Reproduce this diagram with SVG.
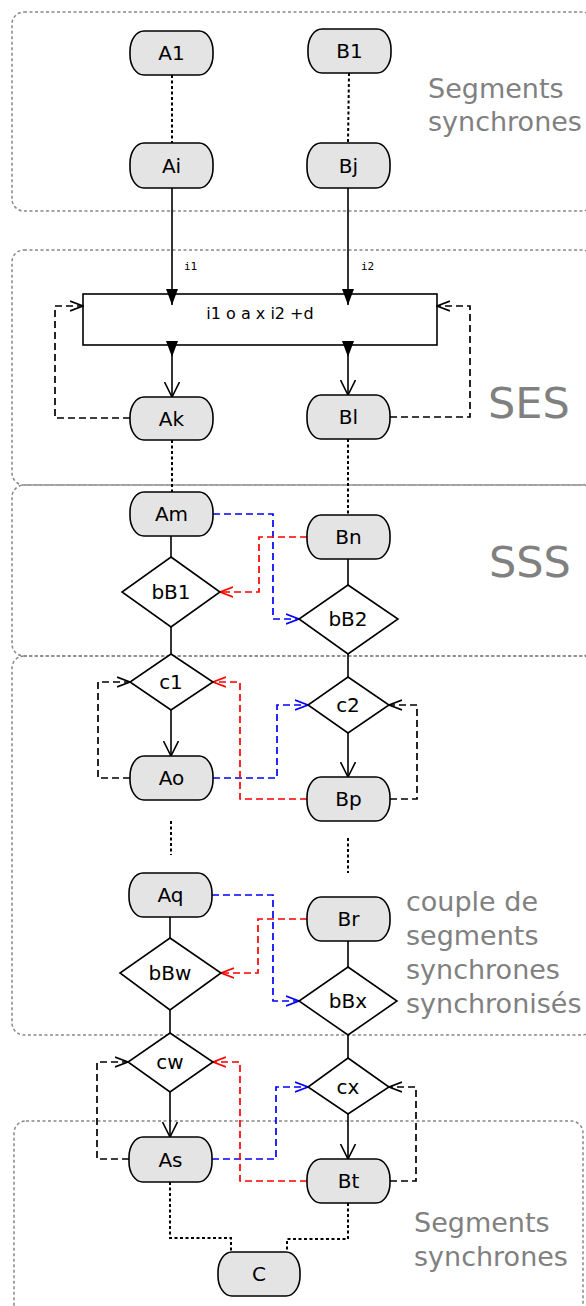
<svg xmlns="http://www.w3.org/2000/svg" width="586" height="1306" viewBox="0 0 586 1306">
<style>
.grp{fill:none;stroke:#888;stroke-width:1.5;stroke-dasharray:3,2.5}
.glab{font-family:"DejaVu Sans",sans-serif;fill:#808080;font-size:27px}
.big{font-family:"DejaVu Sans",sans-serif;fill:#808080;font-size:43px}
.node{fill:#e4e4e4;stroke:#000;stroke-width:1.6}
.dia{fill:#fff;stroke:#000;stroke-width:1.6}
.t{font-family:"DejaVu Sans",sans-serif;font-size:20px;fill:#000;text-anchor:middle;dominant-baseline:central}
.ts{font-family:"DejaVu Sans",sans-serif;font-size:16px;fill:#000;text-anchor:middle}
.tm{font-family:"DejaVu Sans Mono",monospace;font-size:11px;fill:#000}
.solid{fill:none;stroke:#000;stroke-width:1.6}
.dot{fill:none;stroke:#000;stroke-width:2;stroke-dasharray:3,2.5}
.dk{fill:none;stroke:#000;stroke-width:1.7;stroke-dasharray:7,4}
.db{fill:none;stroke:#0000ff;stroke-width:1.7;stroke-dasharray:7,4}
.dr{fill:none;stroke:#ff0000;stroke-width:1.7;stroke-dasharray:7,4}
</style>
<defs>
<marker id="tri" viewBox="0 0 16 12" refX="16" refY="6" markerWidth="16" markerHeight="12" markerUnits="userSpaceOnUse" orient="auto"><path d="M0,0 L16,6 L0,12 z" fill="#000"/></marker>
<marker id="vee" viewBox="0 0 16 16" refX="15" refY="8" markerWidth="16" markerHeight="16" markerUnits="userSpaceOnUse" orient="auto"><path d="M0,0.5 L15,8 L0,15.5" fill="none" stroke="#000" stroke-width="1.6"/></marker>
<marker id="ak" viewBox="0 0 14 12" refX="13" refY="6" markerWidth="14" markerHeight="12" markerUnits="userSpaceOnUse" orient="auto"><path d="M0,1 L13,6 L0,11" fill="none" stroke="#000" stroke-width="1.7"/></marker>
<marker id="ab" viewBox="0 0 14 12" refX="13" refY="6" markerWidth="14" markerHeight="12" markerUnits="userSpaceOnUse" orient="auto"><path d="M0,1 L13,6 L0,11" fill="none" stroke="#0000ff" stroke-width="1.7"/></marker>
<marker id="ar" viewBox="0 0 14 12" refX="13" refY="6" markerWidth="14" markerHeight="12" markerUnits="userSpaceOnUse" orient="auto"><path d="M0,1 L13,6 L0,11" fill="none" stroke="#ff0000" stroke-width="1.7"/></marker>
</defs>
<rect width="586" height="1306" fill="#fff"/>

<g id="groups">
<rect class="grp" x="12" y="12" width="582" height="199" rx="12"/>
<rect class="grp" x="12" y="250" width="582" height="235" rx="12"/>
<rect class="grp" x="12" y="485" width="582" height="171" rx="12"/>
<rect class="grp" x="12" y="656" width="582" height="379" rx="12"/>
<rect class="grp" x="14" y="1121" width="569" height="200" rx="12"/>
<text class="glab" x="428" y="98">Segments</text>
<text class="glab" x="428" y="131">synchrones</text>
<text class="big" x="488" y="418">SES</text>
<text class="big" x="489" y="577">SSS</text>
<text class="glab" x="406" y="911">couple de</text>
<text class="glab" x="406" y="945">segments</text>
<text class="glab" x="406" y="979">synchrones</text>
<text class="glab" x="406" y="1013">synchronisés</text>
<text class="glab" x="414" y="1232">Segments</text>
<text class="glab" x="414" y="1266">synchrones</text>
</g>

<g id="op"><rect x="83" y="294" width="354" height="51" fill="#fff" stroke="#000" stroke-width="1.6"/><text class="ts" x="260" y="319">i1 o a x i2 +d</text></g>

<g id="connectors">
<path class="dot" d="M172,75 V143"/>
<path class="dot" d="M349,73 L348,143"/>
<path class="solid" d="M172,188 V305" marker-end="url(#tri)"/>
<path class="solid" d="M348,188 V305" marker-end="url(#tri)"/>
<text class="tm" x="184" y="270">i1</text>
<text class="tm" x="361" y="270">i2</text>
<path class="solid" d="M172,341 V357 V397" marker-mid="url(#tri)" marker-end="url(#vee)"/>
<path class="solid" d="M348,341 V357 V395" marker-mid="url(#tri)" marker-end="url(#vee)"/>
<path class="dk" d="M130,418 H55 V306 H83" marker-end="url(#ak)"/>
<path class="dk" d="M390,417 H470 V306 H437" marker-end="url(#ak)"/>
<path class="dot" d="M172,440 V492"/>
<path class="dot" d="M348,439 V515"/>

<path class="solid" d="M171,536 V557"/>
<path class="solid" d="M348,559 V585"/>
<path class="db" d="M213,514 H273 V619 H299" marker-end="url(#ab)"/>
<path class="dr" d="M307,537 H259 V592 H220" marker-end="url(#ar)"/>
<path class="solid" d="M171,627 V654"/>
<path class="solid" d="M348,654 V677"/>

<path class="solid" d="M171,710 V756" marker-end="url(#vee)"/>
<path class="solid" d="M348,733 V777" marker-end="url(#vee)"/>
<path class="dk" d="M130,778 H98 V682 H130" marker-end="url(#ak)"/>
<path class="dk" d="M390,799 H417 V705 H389" marker-end="url(#ak)"/>
<path class="db" d="M213,778 H277 V705 H308" marker-end="url(#ab)"/>
<path class="dr" d="M307,799 H240 V682 H213" marker-end="url(#ar)"/>
<path class="dot" d="M171,821 V855"/>
<path class="dot" d="M348,838 V873"/>

<path class="solid" d="M170,917 V938"/>
<path class="solid" d="M348,941 V967"/>
<path class="db" d="M212,895 H273 V1001 H299" marker-end="url(#ab)"/>
<path class="dr" d="M307,919 H258 V973 H221" marker-end="url(#ar)"/>
<path class="solid" d="M170,1010 V1033"/>
<path class="solid" d="M348,1035 V1058"/>

<path class="solid" d="M170,1092 V1137" marker-end="url(#vee)"/>
<path class="solid" d="M348,1114 V1159" marker-end="url(#vee)"/>
<path class="dk" d="M129,1159 H97 V1062 H128" marker-end="url(#ak)"/>
<path class="dk" d="M390,1181 H416 V1087 H389" marker-end="url(#ak)"/>
<path class="db" d="M212,1159 H276 V1087 H308" marker-end="url(#ab)"/>
<path class="dr" d="M307,1181 H240 V1062 H213" marker-end="url(#ar)"/>
<path class="dot" d="M170,1182 V1238 H231 V1252"/>
<path class="dot" d="M348,1203 V1239 H287 V1252"/>
</g>

<g id="A1"><rect class="node" x="130" y="31" width="83" height="44" rx="14" ry="20"/><text class="t" x="171.5" y="53">A1</text></g>
<g id="B1"><rect class="node" x="308" y="29" width="83" height="44" rx="14" ry="20"/><text class="t" x="349.5" y="51">B1</text></g>
<g id="Ai"><rect class="node" x="130" y="143" width="83" height="45" rx="14" ry="20"/><text class="t" x="171.5" y="165.5">Ai</text></g>
<g id="Bj"><rect class="node" x="307" y="143" width="83" height="45" rx="14" ry="20"/><text class="t" x="348.5" y="165.5">Bj</text></g>
<g id="Ak"><rect class="node" x="130" y="397" width="83" height="43" rx="14" ry="20"/><text class="t" x="171.5" y="418.5">Ak</text></g>
<g id="Bl"><rect class="node" x="307" y="395" width="83" height="44" rx="14" ry="20"/><text class="t" x="348.5" y="417">Bl</text></g>

<g id="Am"><rect class="node" x="130" y="492" width="83" height="44" rx="14" ry="20"/><text class="t" x="171.5" y="514">Am</text></g>
<g id="Bn"><rect class="node" x="307" y="515" width="83" height="44" rx="14" ry="20"/><text class="t" x="348.5" y="537">Bn</text></g>
<g id="bB1"><path class="dia" d="M171,557 L220,592 L171,627 L122,592 Z"/><text class="t" x="171" y="592">bB1</text></g>
<g id="bB2"><path class="dia" d="M348,585 L398,619 L348,654 L299,619 Z"/><text class="t" x="348" y="619">bB2</text></g>

<g id="c1"><path class="dia" d="M171,654 L213,682 L171,710 L130,682 Z"/><text class="t" x="171" y="682">c1</text></g>
<g id="c2"><path class="dia" d="M348,677 L389,705 L348,733 L308,705 Z"/><text class="t" x="348" y="705">c2</text></g>
<g id="Ao"><rect class="node" x="130" y="756" width="83" height="44" rx="14" ry="20"/><text class="t" x="171.5" y="778">Ao</text></g>
<g id="Bp"><rect class="node" x="307" y="777" width="83" height="44" rx="14" ry="20"/><text class="t" x="348.5" y="799">Bp</text></g>

<g id="Aq"><rect class="node" x="129" y="873" width="83" height="44" rx="14" ry="20"/><text class="t" x="170.5" y="895">Aq</text></g>
<g id="Br"><rect class="node" x="307" y="897" width="83" height="44" rx="14" ry="20"/><text class="t" x="348.5" y="919">Br</text></g>
<g id="bBw"><path class="dia" d="M170,938 L221,973 L170,1010 L120,973 Z"/><text class="t" x="170" y="973">bBw</text></g>
<g id="bBx"><path class="dia" d="M348,967 L397,1001 L348,1035 L299,1001 Z"/><text class="t" x="348" y="1001">bBx</text></g>

<g id="cw"><path class="dia" d="M170,1033 L213,1062 L170,1092 L128,1062 Z"/><text class="t" x="170" y="1062">cw</text></g>
<g id="cx"><path class="dia" d="M348,1058 L389,1087 L348,1114 L308,1087 Z"/><text class="t" x="348" y="1087">cx</text></g>
<g id="As"><rect class="node" x="129" y="1137" width="83" height="45" rx="14" ry="20"/><text class="t" x="170.5" y="1159.5">As</text></g>
<g id="Bt"><rect class="node" x="307" y="1159" width="83" height="44" rx="14" ry="20"/><text class="t" x="348.5" y="1181">Bt</text></g>
<g id="C"><rect class="node" x="218" y="1252" width="82" height="44" rx="14" ry="20"/><text class="t" x="259" y="1274">C</text></g>
</svg>
